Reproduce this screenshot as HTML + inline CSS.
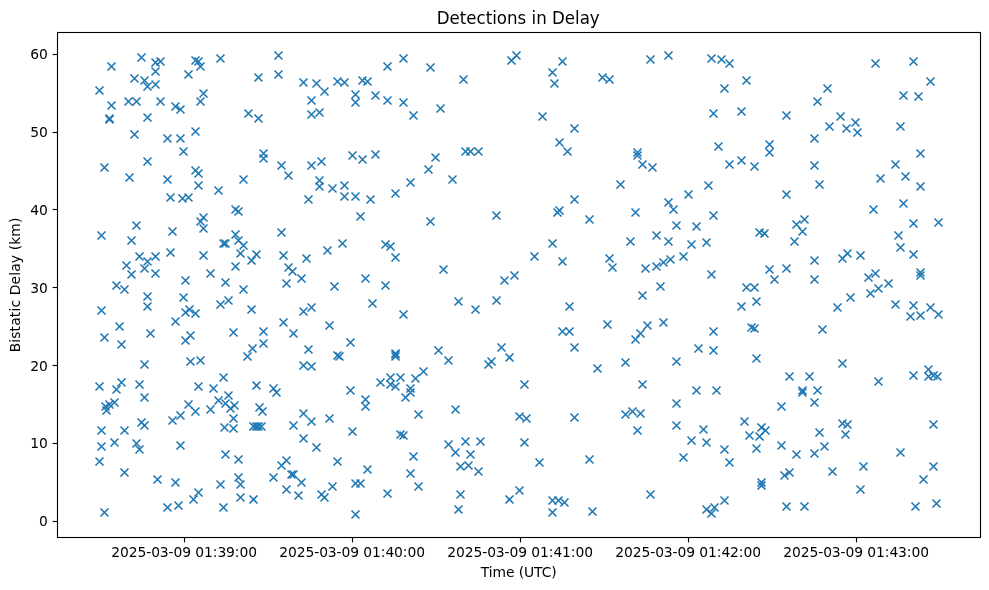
<!DOCTYPE html>
<html><head><meta charset="utf-8"><title>Detections in Delay</title>
<style>html,body{margin:0;padding:0;background:#fff}svg{display:block;will-change:transform}text{font-family:"DejaVu Sans","Liberation Sans",sans-serif;fill:#000}</style></head>
<body>
<svg width="989" height="590" viewBox="0 0 989 590">
<rect width="989" height="590" fill="#fff"/>
<defs><g id="m"><path d="M-4.0,-4.0L4.0,4.0M-4.0,4.0L4.0,-4.0" stroke="#1f77b4" stroke-width="1.6" fill="none"/></g></defs>
<g>
<use href="#m" x="141.5" y="57.5"/>
<use href="#m" x="111.5" y="66.5"/>
<use href="#m" x="155.5" y="62.5"/>
<use href="#m" x="160.5" y="61.5"/>
<use href="#m" x="155.5" y="71.5"/>
<use href="#m" x="195.5" y="60.5"/>
<use href="#m" x="198.5" y="61.5"/>
<use href="#m" x="200.5" y="66.5"/>
<use href="#m" x="220.5" y="58.5"/>
<use href="#m" x="188.5" y="74.5"/>
<use href="#m" x="134.5" y="78.5"/>
<use href="#m" x="144.5" y="80.5"/>
<use href="#m" x="147.5" y="86.5"/>
<use href="#m" x="155.5" y="84.5"/>
<use href="#m" x="99.5" y="90.5"/>
<use href="#m" x="203.5" y="93.5"/>
<use href="#m" x="200.5" y="101.5"/>
<use href="#m" x="128.5" y="101.5"/>
<use href="#m" x="136.5" y="101.5"/>
<use href="#m" x="160.5" y="101.5"/>
<use href="#m" x="175.5" y="106.5"/>
<use href="#m" x="180.5" y="109.5"/>
<use href="#m" x="111.5" y="105.5"/>
<use href="#m" x="109.5" y="118.5"/>
<use href="#m" x="109.5" y="119.5"/>
<use href="#m" x="147.5" y="117.5"/>
<use href="#m" x="134.5" y="134.5"/>
<use href="#m" x="195.5" y="131.5"/>
<use href="#m" x="167.5" y="138.5"/>
<use href="#m" x="180.5" y="138.5"/>
<use href="#m" x="183.5" y="151.5"/>
<use href="#m" x="248.5" y="113.5"/>
<use href="#m" x="278.5" y="55.5"/>
<use href="#m" x="278.5" y="74.5"/>
<use href="#m" x="258.5" y="77.5"/>
<use href="#m" x="258.5" y="118.5"/>
<use href="#m" x="303.5" y="82.5"/>
<use href="#m" x="316.5" y="83.5"/>
<use href="#m" x="324.5" y="91.5"/>
<use href="#m" x="311.5" y="100.5"/>
<use href="#m" x="311.5" y="114.5"/>
<use href="#m" x="319.5" y="112.5"/>
<use href="#m" x="337.5" y="81.5"/>
<use href="#m" x="344.5" y="82.5"/>
<use href="#m" x="362.5" y="80.5"/>
<use href="#m" x="367.5" y="81.5"/>
<use href="#m" x="355.5" y="94.5"/>
<use href="#m" x="355.5" y="102.5"/>
<use href="#m" x="375.5" y="95.5"/>
<use href="#m" x="387.5" y="66.5"/>
<use href="#m" x="387.5" y="100.5"/>
<use href="#m" x="403.5" y="58.5"/>
<use href="#m" x="403.5" y="102.5"/>
<use href="#m" x="413.5" y="115.5"/>
<use href="#m" x="430.5" y="67.5"/>
<use href="#m" x="440.5" y="108.5"/>
<use href="#m" x="463.5" y="79.5"/>
<use href="#m" x="511.5" y="60.5"/>
<use href="#m" x="516.5" y="55.5"/>
<use href="#m" x="562.5" y="61.5"/>
<use href="#m" x="552.5" y="72.5"/>
<use href="#m" x="554.5" y="83.5"/>
<use href="#m" x="602.5" y="77.5"/>
<use href="#m" x="609.5" y="79.5"/>
<use href="#m" x="650.5" y="59.5"/>
<use href="#m" x="542.5" y="116.5"/>
<use href="#m" x="574.5" y="128.5"/>
<use href="#m" x="559.5" y="142.5"/>
<use href="#m" x="668.5" y="55.5"/>
<use href="#m" x="711.5" y="58.5"/>
<use href="#m" x="721.5" y="59.5"/>
<use href="#m" x="729.5" y="63.5"/>
<use href="#m" x="746.5" y="80.5"/>
<use href="#m" x="724.5" y="88.5"/>
<use href="#m" x="713.5" y="113.5"/>
<use href="#m" x="741.5" y="111.5"/>
<use href="#m" x="786.5" y="115.5"/>
<use href="#m" x="827.5" y="88.5"/>
<use href="#m" x="817.5" y="101.5"/>
<use href="#m" x="840.5" y="116.5"/>
<use href="#m" x="829.5" y="126.5"/>
<use href="#m" x="846.5" y="128.5"/>
<use href="#m" x="814.5" y="138.5"/>
<use href="#m" x="718.5" y="146.5"/>
<use href="#m" x="769.5" y="144.5"/>
<use href="#m" x="855.5" y="122.5"/>
<use href="#m" x="857.5" y="132.5"/>
<use href="#m" x="875.5" y="63.5"/>
<use href="#m" x="913.5" y="61.5"/>
<use href="#m" x="930.5" y="81.5"/>
<use href="#m" x="903.5" y="95.5"/>
<use href="#m" x="918.5" y="96.5"/>
<use href="#m" x="900.5" y="126.5"/>
<use href="#m" x="104.5" y="167.5"/>
<use href="#m" x="147.5" y="161.5"/>
<use href="#m" x="129.5" y="177.5"/>
<use href="#m" x="167.5" y="179.5"/>
<use href="#m" x="195.5" y="170.5"/>
<use href="#m" x="198.5" y="173.5"/>
<use href="#m" x="198.5" y="185.5"/>
<use href="#m" x="218.5" y="190.5"/>
<use href="#m" x="243.5" y="179.5"/>
<use href="#m" x="170.5" y="197.5"/>
<use href="#m" x="182.5" y="198.5"/>
<use href="#m" x="188.5" y="197.5"/>
<use href="#m" x="235.5" y="209.5"/>
<use href="#m" x="238.5" y="211.5"/>
<use href="#m" x="203.5" y="217.5"/>
<use href="#m" x="200.5" y="221.5"/>
<use href="#m" x="203.5" y="228.5"/>
<use href="#m" x="136.5" y="225.5"/>
<use href="#m" x="172.5" y="231.5"/>
<use href="#m" x="101.5" y="235.5"/>
<use href="#m" x="131.5" y="240.5"/>
<use href="#m" x="235.5" y="234.5"/>
<use href="#m" x="238.5" y="240.5"/>
<use href="#m" x="243.5" y="245.5"/>
<use href="#m" x="223.5" y="243.5"/>
<use href="#m" x="225.5" y="243.5"/>
<use href="#m" x="170.5" y="252.5"/>
<use href="#m" x="203.5" y="255.5"/>
<use href="#m" x="240.5" y="253.5"/>
<use href="#m" x="139.5" y="256.5"/>
<use href="#m" x="147.5" y="261.5"/>
<use href="#m" x="155.5" y="256.5"/>
<use href="#m" x="126.5" y="265.5"/>
<use href="#m" x="144.5" y="268.5"/>
<use href="#m" x="235.5" y="266.5"/>
<use href="#m" x="251.5" y="260.5"/>
<use href="#m" x="263.5" y="153.5"/>
<use href="#m" x="263.5" y="158.5"/>
<use href="#m" x="281.5" y="165.5"/>
<use href="#m" x="288.5" y="175.5"/>
<use href="#m" x="311.5" y="165.5"/>
<use href="#m" x="321.5" y="161.5"/>
<use href="#m" x="319.5" y="180.5"/>
<use href="#m" x="319.5" y="186.5"/>
<use href="#m" x="332.5" y="188.5"/>
<use href="#m" x="344.5" y="185.5"/>
<use href="#m" x="344.5" y="196.5"/>
<use href="#m" x="355.5" y="196.5"/>
<use href="#m" x="370.5" y="199.5"/>
<use href="#m" x="308.5" y="199.5"/>
<use href="#m" x="352.5" y="155.5"/>
<use href="#m" x="362.5" y="159.5"/>
<use href="#m" x="375.5" y="154.5"/>
<use href="#m" x="395.5" y="193.5"/>
<use href="#m" x="410.5" y="182.5"/>
<use href="#m" x="428.5" y="169.5"/>
<use href="#m" x="435.5" y="157.5"/>
<use href="#m" x="452.5" y="179.5"/>
<use href="#m" x="360.5" y="216.5"/>
<use href="#m" x="430.5" y="221.5"/>
<use href="#m" x="281.5" y="232.5"/>
<use href="#m" x="342.5" y="243.5"/>
<use href="#m" x="327.5" y="250.5"/>
<use href="#m" x="306.5" y="258.5"/>
<use href="#m" x="283.5" y="255.5"/>
<use href="#m" x="256.5" y="254.5"/>
<use href="#m" x="385.5" y="244.5"/>
<use href="#m" x="390.5" y="246.5"/>
<use href="#m" x="395.5" y="257.5"/>
<use href="#m" x="288.5" y="267.5"/>
<use href="#m" x="443.5" y="269.5"/>
<use href="#m" x="465.5" y="151.5"/>
<use href="#m" x="470.5" y="151.5"/>
<use href="#m" x="478.5" y="151.5"/>
<use href="#m" x="567.5" y="151.5"/>
<use href="#m" x="637.5" y="152.5"/>
<use href="#m" x="637.5" y="155.5"/>
<use href="#m" x="642.5" y="164.5"/>
<use href="#m" x="652.5" y="167.5"/>
<use href="#m" x="620.5" y="184.5"/>
<use href="#m" x="574.5" y="199.5"/>
<use href="#m" x="557.5" y="212.5"/>
<use href="#m" x="559.5" y="210.5"/>
<use href="#m" x="496.5" y="215.5"/>
<use href="#m" x="589.5" y="219.5"/>
<use href="#m" x="635.5" y="212.5"/>
<use href="#m" x="552.5" y="243.5"/>
<use href="#m" x="630.5" y="241.5"/>
<use href="#m" x="534.5" y="256.5"/>
<use href="#m" x="562.5" y="261.5"/>
<use href="#m" x="609.5" y="258.5"/>
<use href="#m" x="612.5" y="267.5"/>
<use href="#m" x="645.5" y="268.5"/>
<use href="#m" x="769.5" y="152.5"/>
<use href="#m" x="729.5" y="164.5"/>
<use href="#m" x="741.5" y="160.5"/>
<use href="#m" x="754.5" y="166.5"/>
<use href="#m" x="814.5" y="165.5"/>
<use href="#m" x="819.5" y="184.5"/>
<use href="#m" x="786.5" y="194.5"/>
<use href="#m" x="708.5" y="185.5"/>
<use href="#m" x="688.5" y="194.5"/>
<use href="#m" x="668.5" y="202.5"/>
<use href="#m" x="673.5" y="209.5"/>
<use href="#m" x="713.5" y="215.5"/>
<use href="#m" x="676.5" y="225.5"/>
<use href="#m" x="696.5" y="226.5"/>
<use href="#m" x="656.5" y="235.5"/>
<use href="#m" x="668.5" y="241.5"/>
<use href="#m" x="691.5" y="244.5"/>
<use href="#m" x="706.5" y="242.5"/>
<use href="#m" x="683.5" y="256.5"/>
<use href="#m" x="670.5" y="259.5"/>
<use href="#m" x="663.5" y="262.5"/>
<use href="#m" x="656.5" y="266.5"/>
<use href="#m" x="759.5" y="232.5"/>
<use href="#m" x="764.5" y="233.5"/>
<use href="#m" x="804.5" y="219.5"/>
<use href="#m" x="796.5" y="224.5"/>
<use href="#m" x="802.5" y="231.5"/>
<use href="#m" x="794.5" y="241.5"/>
<use href="#m" x="814.5" y="260.5"/>
<use href="#m" x="842.5" y="258.5"/>
<use href="#m" x="847.5" y="253.5"/>
<use href="#m" x="769.5" y="269.5"/>
<use href="#m" x="786.5" y="268.5"/>
<use href="#m" x="920.5" y="153.5"/>
<use href="#m" x="895.5" y="164.5"/>
<use href="#m" x="880.5" y="178.5"/>
<use href="#m" x="905.5" y="176.5"/>
<use href="#m" x="920.5" y="186.5"/>
<use href="#m" x="903.5" y="203.5"/>
<use href="#m" x="873.5" y="209.5"/>
<use href="#m" x="913.5" y="223.5"/>
<use href="#m" x="938.5" y="222.5"/>
<use href="#m" x="898.5" y="235.5"/>
<use href="#m" x="900.5" y="247.5"/>
<use href="#m" x="913.5" y="254.5"/>
<use href="#m" x="860.5" y="255.5"/>
<use href="#m" x="131.5" y="274.5"/>
<use href="#m" x="155.5" y="273.5"/>
<use href="#m" x="210.5" y="273.5"/>
<use href="#m" x="185.5" y="280.5"/>
<use href="#m" x="225.5" y="282.5"/>
<use href="#m" x="243.5" y="289.5"/>
<use href="#m" x="116.5" y="285.5"/>
<use href="#m" x="124.5" y="289.5"/>
<use href="#m" x="147.5" y="296.5"/>
<use href="#m" x="147.5" y="306.5"/>
<use href="#m" x="183.5" y="297.5"/>
<use href="#m" x="228.5" y="300.5"/>
<use href="#m" x="220.5" y="304.5"/>
<use href="#m" x="251.5" y="309.5"/>
<use href="#m" x="101.5" y="310.5"/>
<use href="#m" x="185.5" y="312.5"/>
<use href="#m" x="189.5" y="309.5"/>
<use href="#m" x="195.5" y="313.5"/>
<use href="#m" x="175.5" y="321.5"/>
<use href="#m" x="119.5" y="326.5"/>
<use href="#m" x="104.5" y="337.5"/>
<use href="#m" x="121.5" y="344.5"/>
<use href="#m" x="150.5" y="333.5"/>
<use href="#m" x="190.5" y="335.5"/>
<use href="#m" x="185.5" y="340.5"/>
<use href="#m" x="233.5" y="332.5"/>
<use href="#m" x="252.5" y="348.5"/>
<use href="#m" x="247.5" y="356.5"/>
<use href="#m" x="144.5" y="364.5"/>
<use href="#m" x="190.5" y="361.5"/>
<use href="#m" x="200.5" y="360.5"/>
<use href="#m" x="223.5" y="377.5"/>
<use href="#m" x="99.5" y="386.5"/>
<use href="#m" x="121.5" y="382.5"/>
<use href="#m" x="116.5" y="389.5"/>
<use href="#m" x="139.5" y="384.5"/>
<use href="#m" x="198.5" y="386.5"/>
<use href="#m" x="213.5" y="388.5"/>
<use href="#m" x="292.5" y="271.5"/>
<use href="#m" x="286.5" y="283.5"/>
<use href="#m" x="301.5" y="278.5"/>
<use href="#m" x="334.5" y="286.5"/>
<use href="#m" x="365.5" y="278.5"/>
<use href="#m" x="385.5" y="285.5"/>
<use href="#m" x="372.5" y="303.5"/>
<use href="#m" x="403.5" y="314.5"/>
<use href="#m" x="311.5" y="307.5"/>
<use href="#m" x="303.5" y="311.5"/>
<use href="#m" x="283.5" y="322.5"/>
<use href="#m" x="329.5" y="325.5"/>
<use href="#m" x="263.5" y="331.5"/>
<use href="#m" x="293.5" y="333.5"/>
<use href="#m" x="263.5" y="343.5"/>
<use href="#m" x="308.5" y="349.5"/>
<use href="#m" x="350.5" y="342.5"/>
<use href="#m" x="337.5" y="355.5"/>
<use href="#m" x="339.5" y="356.5"/>
<use href="#m" x="303.5" y="365.5"/>
<use href="#m" x="311.5" y="366.5"/>
<use href="#m" x="395.5" y="353.5"/>
<use href="#m" x="395.5" y="356.5"/>
<use href="#m" x="395.5" y="354.5"/>
<use href="#m" x="438.5" y="350.5"/>
<use href="#m" x="448.5" y="360.5"/>
<use href="#m" x="423.5" y="371.5"/>
<use href="#m" x="415.5" y="378.5"/>
<use href="#m" x="400.5" y="377.5"/>
<use href="#m" x="390.5" y="377.5"/>
<use href="#m" x="380.5" y="382.5"/>
<use href="#m" x="390.5" y="384.5"/>
<use href="#m" x="395.5" y="386.5"/>
<use href="#m" x="410.5" y="388.5"/>
<use href="#m" x="350.5" y="390.5"/>
<use href="#m" x="256.5" y="385.5"/>
<use href="#m" x="273.5" y="388.5"/>
<use href="#m" x="504.5" y="280.5"/>
<use href="#m" x="514.5" y="275.5"/>
<use href="#m" x="458.5" y="301.5"/>
<use href="#m" x="475.5" y="309.5"/>
<use href="#m" x="496.5" y="300.5"/>
<use href="#m" x="569.5" y="306.5"/>
<use href="#m" x="642.5" y="295.5"/>
<use href="#m" x="607.5" y="324.5"/>
<use href="#m" x="562.5" y="331.5"/>
<use href="#m" x="569.5" y="331.5"/>
<use href="#m" x="574.5" y="347.5"/>
<use href="#m" x="647.5" y="325.5"/>
<use href="#m" x="640.5" y="333.5"/>
<use href="#m" x="635.5" y="339.5"/>
<use href="#m" x="501.5" y="347.5"/>
<use href="#m" x="509.5" y="357.5"/>
<use href="#m" x="491.5" y="361.5"/>
<use href="#m" x="488.5" y="364.5"/>
<use href="#m" x="625.5" y="362.5"/>
<use href="#m" x="597.5" y="368.5"/>
<use href="#m" x="524.5" y="384.5"/>
<use href="#m" x="642.5" y="384.5"/>
<use href="#m" x="711.5" y="274.5"/>
<use href="#m" x="660.5" y="286.5"/>
<use href="#m" x="774.5" y="279.5"/>
<use href="#m" x="814.5" y="279.5"/>
<use href="#m" x="746.5" y="287.5"/>
<use href="#m" x="754.5" y="287.5"/>
<use href="#m" x="756.5" y="301.5"/>
<use href="#m" x="741.5" y="306.5"/>
<use href="#m" x="850.5" y="297.5"/>
<use href="#m" x="837.5" y="307.5"/>
<use href="#m" x="663.5" y="322.5"/>
<use href="#m" x="713.5" y="331.5"/>
<use href="#m" x="751.5" y="327.5"/>
<use href="#m" x="754.5" y="328.5"/>
<use href="#m" x="822.5" y="329.5"/>
<use href="#m" x="698.5" y="348.5"/>
<use href="#m" x="713.5" y="350.5"/>
<use href="#m" x="676.5" y="361.5"/>
<use href="#m" x="756.5" y="358.5"/>
<use href="#m" x="842.5" y="363.5"/>
<use href="#m" x="789.5" y="376.5"/>
<use href="#m" x="809.5" y="376.5"/>
<use href="#m" x="696.5" y="390.5"/>
<use href="#m" x="716.5" y="390.5"/>
<use href="#m" x="802.5" y="390.5"/>
<use href="#m" x="802.5" y="392.5"/>
<use href="#m" x="817.5" y="390.5"/>
<use href="#m" x="868.5" y="277.5"/>
<use href="#m" x="875.5" y="273.5"/>
<use href="#m" x="888.5" y="283.5"/>
<use href="#m" x="878.5" y="288.5"/>
<use href="#m" x="870.5" y="293.5"/>
<use href="#m" x="920.5" y="272.5"/>
<use href="#m" x="920.5" y="275.5"/>
<use href="#m" x="895.5" y="304.5"/>
<use href="#m" x="913.5" y="305.5"/>
<use href="#m" x="930.5" y="307.5"/>
<use href="#m" x="910.5" y="316.5"/>
<use href="#m" x="920.5" y="315.5"/>
<use href="#m" x="938.5" y="314.5"/>
<use href="#m" x="878.5" y="381.5"/>
<use href="#m" x="913.5" y="375.5"/>
<use href="#m" x="928.5" y="369.5"/>
<use href="#m" x="928.5" y="376.5"/>
<use href="#m" x="933.5" y="375.5"/>
<use href="#m" x="937.5" y="376.5"/>
<use href="#m" x="144.5" y="397.5"/>
<use href="#m" x="228.5" y="395.5"/>
<use href="#m" x="114.5" y="402.5"/>
<use href="#m" x="109.5" y="404.5"/>
<use href="#m" x="105.5" y="406.5"/>
<use href="#m" x="106.5" y="410.5"/>
<use href="#m" x="188.5" y="404.5"/>
<use href="#m" x="218.5" y="400.5"/>
<use href="#m" x="225.5" y="403.5"/>
<use href="#m" x="234.5" y="405.5"/>
<use href="#m" x="230.5" y="408.5"/>
<use href="#m" x="210.5" y="409.5"/>
<use href="#m" x="195.5" y="411.5"/>
<use href="#m" x="180.5" y="415.5"/>
<use href="#m" x="172.5" y="420.5"/>
<use href="#m" x="233.5" y="418.5"/>
<use href="#m" x="141.5" y="422.5"/>
<use href="#m" x="144.5" y="425.5"/>
<use href="#m" x="224.5" y="427.5"/>
<use href="#m" x="233.5" y="428.5"/>
<use href="#m" x="253.5" y="426.5"/>
<use href="#m" x="101.5" y="430.5"/>
<use href="#m" x="124.5" y="430.5"/>
<use href="#m" x="114.5" y="442.5"/>
<use href="#m" x="101.5" y="446.5"/>
<use href="#m" x="136.5" y="443.5"/>
<use href="#m" x="139.5" y="449.5"/>
<use href="#m" x="180.5" y="445.5"/>
<use href="#m" x="99.5" y="461.5"/>
<use href="#m" x="124.5" y="472.5"/>
<use href="#m" x="225.5" y="454.5"/>
<use href="#m" x="238.5" y="459.5"/>
<use href="#m" x="238.5" y="477.5"/>
<use href="#m" x="240.5" y="484.5"/>
<use href="#m" x="220.5" y="484.5"/>
<use href="#m" x="157.5" y="479.5"/>
<use href="#m" x="175.5" y="482.5"/>
<use href="#m" x="198.5" y="492.5"/>
<use href="#m" x="193.5" y="499.5"/>
<use href="#m" x="240.5" y="497.5"/>
<use href="#m" x="253.5" y="499.5"/>
<use href="#m" x="167.5" y="507.5"/>
<use href="#m" x="178.5" y="505.5"/>
<use href="#m" x="223.5" y="507.5"/>
<use href="#m" x="276.5" y="392.5"/>
<use href="#m" x="410.5" y="392.5"/>
<use href="#m" x="405.5" y="397.5"/>
<use href="#m" x="365.5" y="399.5"/>
<use href="#m" x="365.5" y="406.5"/>
<use href="#m" x="259.5" y="407.5"/>
<use href="#m" x="262.5" y="411.5"/>
<use href="#m" x="256.5" y="426.5"/>
<use href="#m" x="258.5" y="426.5"/>
<use href="#m" x="261.5" y="426.5"/>
<use href="#m" x="303.5" y="413.5"/>
<use href="#m" x="311.5" y="421.5"/>
<use href="#m" x="293.5" y="425.5"/>
<use href="#m" x="329.5" y="418.5"/>
<use href="#m" x="303.5" y="438.5"/>
<use href="#m" x="316.5" y="447.5"/>
<use href="#m" x="352.5" y="431.5"/>
<use href="#m" x="418.5" y="414.5"/>
<use href="#m" x="455.5" y="409.5"/>
<use href="#m" x="400.5" y="434.5"/>
<use href="#m" x="403.5" y="435.5"/>
<use href="#m" x="448.5" y="444.5"/>
<use href="#m" x="455.5" y="452.5"/>
<use href="#m" x="413.5" y="456.5"/>
<use href="#m" x="410.5" y="473.5"/>
<use href="#m" x="418.5" y="486.5"/>
<use href="#m" x="337.5" y="461.5"/>
<use href="#m" x="367.5" y="469.5"/>
<use href="#m" x="286.5" y="460.5"/>
<use href="#m" x="281.5" y="465.5"/>
<use href="#m" x="273.5" y="477.5"/>
<use href="#m" x="291.5" y="474.5"/>
<use href="#m" x="293.5" y="474.5"/>
<use href="#m" x="301.5" y="482.5"/>
<use href="#m" x="286.5" y="489.5"/>
<use href="#m" x="298.5" y="495.5"/>
<use href="#m" x="332.5" y="486.5"/>
<use href="#m" x="321.5" y="494.5"/>
<use href="#m" x="324.5" y="497.5"/>
<use href="#m" x="355.5" y="483.5"/>
<use href="#m" x="360.5" y="483.5"/>
<use href="#m" x="387.5" y="493.5"/>
<use href="#m" x="519.5" y="416.5"/>
<use href="#m" x="526.5" y="418.5"/>
<use href="#m" x="574.5" y="417.5"/>
<use href="#m" x="625.5" y="414.5"/>
<use href="#m" x="632.5" y="411.5"/>
<use href="#m" x="640.5" y="413.5"/>
<use href="#m" x="637.5" y="430.5"/>
<use href="#m" x="465.5" y="441.5"/>
<use href="#m" x="480.5" y="441.5"/>
<use href="#m" x="524.5" y="442.5"/>
<use href="#m" x="470.5" y="454.5"/>
<use href="#m" x="460.5" y="466.5"/>
<use href="#m" x="468.5" y="465.5"/>
<use href="#m" x="478.5" y="471.5"/>
<use href="#m" x="539.5" y="462.5"/>
<use href="#m" x="589.5" y="459.5"/>
<use href="#m" x="460.5" y="494.5"/>
<use href="#m" x="519.5" y="490.5"/>
<use href="#m" x="509.5" y="499.5"/>
<use href="#m" x="552.5" y="500.5"/>
<use href="#m" x="558.5" y="500.5"/>
<use href="#m" x="564.5" y="502.5"/>
<use href="#m" x="650.5" y="494.5"/>
<use href="#m" x="458.5" y="509.5"/>
<use href="#m" x="676.5" y="403.5"/>
<use href="#m" x="781.5" y="406.5"/>
<use href="#m" x="814.5" y="402.5"/>
<use href="#m" x="676.5" y="425.5"/>
<use href="#m" x="703.5" y="429.5"/>
<use href="#m" x="691.5" y="440.5"/>
<use href="#m" x="706.5" y="442.5"/>
<use href="#m" x="744.5" y="421.5"/>
<use href="#m" x="761.5" y="427.5"/>
<use href="#m" x="765.5" y="430.5"/>
<use href="#m" x="749.5" y="435.5"/>
<use href="#m" x="759.5" y="436.5"/>
<use href="#m" x="756.5" y="448.5"/>
<use href="#m" x="724.5" y="449.5"/>
<use href="#m" x="683.5" y="457.5"/>
<use href="#m" x="729.5" y="462.5"/>
<use href="#m" x="781.5" y="445.5"/>
<use href="#m" x="796.5" y="454.5"/>
<use href="#m" x="814.5" y="453.5"/>
<use href="#m" x="824.5" y="446.5"/>
<use href="#m" x="819.5" y="432.5"/>
<use href="#m" x="842.5" y="423.5"/>
<use href="#m" x="847.5" y="424.5"/>
<use href="#m" x="845.5" y="434.5"/>
<use href="#m" x="832.5" y="471.5"/>
<use href="#m" x="789.5" y="472.5"/>
<use href="#m" x="784.5" y="475.5"/>
<use href="#m" x="761.5" y="482.5"/>
<use href="#m" x="761.5" y="485.5"/>
<use href="#m" x="724.5" y="500.5"/>
<use href="#m" x="714.5" y="507.5"/>
<use href="#m" x="706.5" y="509.5"/>
<use href="#m" x="786.5" y="506.5"/>
<use href="#m" x="804.5" y="506.5"/>
<use href="#m" x="933.5" y="424.5"/>
<use href="#m" x="900.5" y="452.5"/>
<use href="#m" x="863.5" y="466.5"/>
<use href="#m" x="933.5" y="466.5"/>
<use href="#m" x="923.5" y="479.5"/>
<use href="#m" x="860.5" y="489.5"/>
<use href="#m" x="936.5" y="503.5"/>
<use href="#m" x="915.5" y="506.5"/>
<use href="#m" x="104.5" y="512.5"/>
<use href="#m" x="355.5" y="514.5"/>
<use href="#m" x="552.5" y="512.5"/>
<use href="#m" x="592.5" y="511.5"/>
<use href="#m" x="711.5" y="513.5"/>
</g>
<rect x="57.5" y="32.5" width="923.0" height="505.0" fill="none" stroke="#000" stroke-width="1.11"/>
<g stroke="#000" stroke-width="1.11">
<line x1="184.5" y1="537.5" x2="184.5" y2="542.4"/>
<line x1="352.5" y1="537.5" x2="352.5" y2="542.4"/>
<line x1="520.5" y1="537.5" x2="520.5" y2="542.4"/>
<line x1="688.5" y1="537.5" x2="688.5" y2="542.4"/>
<line x1="856.5" y1="537.5" x2="856.5" y2="542.4"/>
<line x1="52.6" y1="521.5" x2="57.5" y2="521.5"/>
<line x1="52.6" y1="443.5" x2="57.5" y2="443.5"/>
<line x1="52.6" y1="365.5" x2="57.5" y2="365.5"/>
<line x1="52.6" y1="287.5" x2="57.5" y2="287.5"/>
<line x1="52.6" y1="209.5" x2="57.5" y2="209.5"/>
<line x1="52.6" y1="132.5" x2="57.5" y2="132.5"/>
<line x1="52.6" y1="54.5" x2="57.5" y2="54.5"/>
</g>
<g font-size="13.89px" text-anchor="middle" letter-spacing="-0.09">
<text x="184.1" y="557">2025-03-09 01:39:00</text>
<text x="352.1" y="557">2025-03-09 01:40:00</text>
<text x="520.1" y="557">2025-03-09 01:41:00</text>
<text x="688.1" y="557">2025-03-09 01:42:00</text>
<text x="856.1" y="557">2025-03-09 01:43:00</text>
<text x="518.7" y="577">Time (UTC)</text>
<text transform="translate(20.3,284.9) rotate(-90)" letter-spacing="0.13">Bistatic Delay (km)</text>
</g>
<g font-size="13.89px" text-anchor="end">
<text x="47.8" y="526">0</text>
<text x="47.8" y="448">10</text>
<text x="47.8" y="371">20</text>
<text x="47.8" y="293">30</text>
<text x="47.8" y="215">40</text>
<text x="47.8" y="137">50</text>
<text x="47.8" y="59">60</text>
</g>
<text transform="translate(518.2,23.5) scale(1,1.08)" font-size="16.67px" text-anchor="middle">Detections in Delay</text>
</svg>
</body></html>
